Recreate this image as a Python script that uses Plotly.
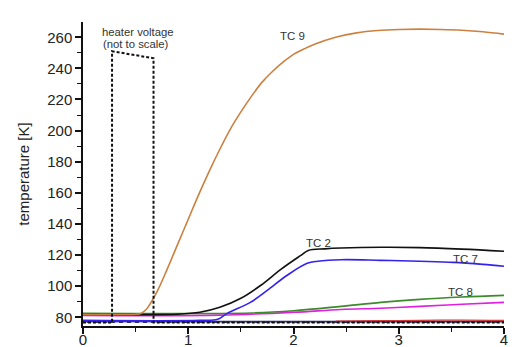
import plotly.graph_objects as go

# Time axis (arbitrary units) and thermocouple readings [K]
t_tc9 = [0, 0.5, 0.55, 0.6, 0.7, 0.8, 0.9, 1.0, 1.1, 1.2, 1.3, 1.4, 1.5, 1.6, 1.7, 1.8, 1.9,
         2.0, 2.1, 2.2, 2.4, 2.6, 2.8, 3.0, 3.2, 3.4, 3.6, 3.8, 4.0]
tc9 = [82, 82, 82.5, 85, 96, 111, 127, 143, 159, 174, 188, 201, 212, 222, 231, 238, 244,
       249, 252.5, 255.5, 260, 262.8, 264.3, 265, 265.2, 265, 264.5, 263.5, 262]

t_tc2 = [0, 0.9, 1.11, 1.3, 1.5, 1.69, 1.88, 2.07, 2.14, 2.3, 2.45, 2.83, 3.2, 3.6, 4.0]
tc2 = [82, 82, 83.2, 86.4, 92.2, 100.6, 110.8, 119.8, 123, 124, 124.5, 125, 124.8, 123.8, 122.4]

t_tc7 = [0, 1.11, 1.28, 1.37, 1.59, 1.75, 1.94, 2.13, 2.23, 2.45, 2.83, 3.2, 3.52, 3.8, 4.0]
tc7 = [78, 78, 78.7, 82.5, 89.6, 97.3, 107, 114.7, 116, 117, 116.6, 116, 115.3, 114, 112.8]

t_tc8 = [0, 1.6, 2.0, 2.45, 2.83, 3.2, 3.6, 4.0]
tc8 = [82.6, 82.8, 84.2, 87, 89.6, 91.5, 93, 94.1]

t_tc_m = [0, 1.3, 2.0, 2.45, 2.83, 3.2, 3.6, 4.0]
tc_m = [81.2, 81.4, 83.2, 85, 85.8, 87, 88.4, 89.6]

t_low = [0, 1.0, 2.0, 3.0, 4.0]
tc_navy = [77.0, 76.9, 77.0, 77.1, 77.0]
t_red = [2.4, 2.8, 3.2, 3.6, 4.0]
tc_red = [77.6, 77.8, 78.0, 78.2, 78.0]

# Heater voltage pulse (not to scale)
t_heat = [0, 0.276, 0.276, 0.67, 0.67, 4.0]
heat = [76.6, 76.6, 251, 246.5, 76.6, 76.6]

fig = go.Figure()

def add_line(x, y, color, width=1.6, dash="solid", shape="spline"):
    fig.add_trace(go.Scatter(x=x, y=y, mode="lines",
                             line=dict(color=color, width=width, dash=dash, shape=shape),
                             hoverinfo="skip", showlegend=False))

add_line(t_low, tc_navy, "#2c2c70", width=2.2, shape="linear")
add_line(t_low, [v - 0.3 for v in tc_navy], "#c0c0d8", width=1.0, dash="4px,4px", shape="linear")
add_line(t_red, tc_red, "#d03a3a", width=1.2)
add_line(t_tc_m, tc_m, "#e020e0")
add_line(t_tc8, tc8, "#3c8a2a")
add_line(t_tc7, tc7, "#3322ee")
add_line(t_tc2, tc2, "#111111")
add_line(t_tc9, tc9, "#cc8040")
add_line(t_heat, heat, "#111111", width=2, dash="3px,2px", shape="linear")

label_font = dict(family="Liberation Sans, Arial, sans-serif", size=11.5, color="#333333")
for txt, x, y in [("TC 9", 1.99, 260.5), ("TC 2", 2.24, 128), ("TC 7", 3.63, 117.5), ("TC 8", 3.59, 96)]:
    fig.add_annotation(x=x, y=y, text=txt, showarrow=False, font=label_font,
                       xanchor="center", yanchor="middle")

heater_font = dict(family="Liberation Sans, Arial, sans-serif", size=11.3, color="#333333")
fig.add_annotation(x=0.525, y=263.5, text="heater voltage", showarrow=False,
                   font=heater_font, xanchor="center", yanchor="middle")
fig.add_annotation(x=0.5, y=255.5, text="(not to scale)", showarrow=False,
                   font=heater_font, xanchor="center", yanchor="middle")

axis_font = dict(family="Liberation Sans, Arial, sans-serif", size=15, color="#222222")

fig.update_layout(
    width=519, height=347,
    margin=dict(l=83, r=15, t=22, b=21),
    paper_bgcolor="white", plot_bgcolor="white",
    font=axis_font,
    xaxis=dict(range=[0, 4], tickvals=[0, 1, 2, 3, 4], showgrid=False, zeroline=False,
               automargin=False, ticklabelstandoff=-7,
               showline=True, linecolor="#111111", linewidth=1.5,
               ticks="outside", ticklen=6, tickwidth=1.5, tickcolor="#111111",
               minor=dict(dtick=0.5, ticks="outside", ticklen=4, tickwidth=1.2, tickcolor="#111111"),
               tickfont=axis_font),
    yaxis=dict(range=[74.4, 269.8], tickvals=[80, 100, 120, 140, 160, 180, 200, 220, 240, 260],
               showgrid=False, zeroline=False, automargin=False,
               showline=True, linecolor="#111111", linewidth=1.5,
               ticks="outside", ticklen=6, tickwidth=1.5, tickcolor="#111111",
               minor=dict(dtick=10, ticks="outside", ticklen=4, tickwidth=1.2, tickcolor="#111111"),
               tickfont=axis_font,
               title=dict(text="temperature [K]", font=axis_font, standoff=14)),
)

fig.write_html("out.html")
